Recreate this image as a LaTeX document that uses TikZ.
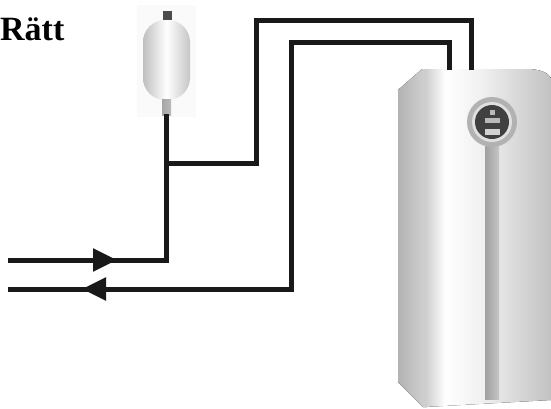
\documentclass[tikz,border=0pt]{standalone}
\usepackage{fontspec}
\setmainfont{Liberation Serif}
\usetikzlibrary{arrows.meta,positioning}

\pgfdeclarehorizontalshading{heaterfront}{100bp}{color(0bp)=(gray!40); color(25bp)=(gray!40);
  color(33bp)=(white); color(48bp)=(gray!12); color(75bp)=(gray!48); color(100bp)=(gray!48)}

\tikzset{
  pipe/.style={line width=5pt,draw=black!90},
  flow/.style={-{Triangle[length=24pt,width=22pt]}},
  vessel/.style={draw=none,minimum width=47pt,minimum height=80pt,rounded corners=22pt,
    left color=gray!50,right color=gray!45,middle color=white},
}

\begin{document}
\begin{tikzpicture}[x=1pt,y=-1pt]
  \useasboundingbox (0,0) rectangle (551,408);
  %\draw[very thin,lightgray] (0,0) grid[step=50] (551,408);
  \node[anchor=base west,inner sep=0pt,font=\fontsize{34}{36}\selectfont\bfseries] (title) at (0,40) {Rätt};

  % expansion vessel
  \fill[gray!4] (137,5) rectangle (196,117);
  \node[vessel] (vessel) at (166.5,60) {};
  \fill[black!70] (163,11) rectangle (172,20);
  \fill[left color=gray!70,right color=gray!55] (162,99) rectangle (171,115);
  \coordinate (neck) at (166.5,114);

  % heater
  \fill[left color=gray!60,right color=gray!35] (398,90) -- (422,69) -- (427,69) -- (427,407) -- (423,407) -- (398,382) -- cycle;
  \fill[shading=heaterfront] (425,69) -- (530,69) .. controls (542,70) and (548,73) .. (551,78) -- (551,400) -- (425,407) -- cycle;
  \fill[left color=gray!75,right color=gray!45] (485,140) rectangle (499,399);
  \fill[gray!60] (492,122) circle (25);
  \fill[gray!25] (492,122) circle (20);
  \fill[black!75] (492,122) circle (17);
  \fill[gray!55] (490,110) rectangle (495,115);
  \fill[gray!55] (485,118) rectangle (500,123);
  \fill[gray!35] (485,129) rectangle (500,135);
  \coordinate (heater in) at (471,70);
  \coordinate (heater out) at (449,70);

  % supply
  \coordinate (supply in) at (8,260);
  \coordinate (supply arrow) at (117,260);
  \coordinate (tee) at (166.5,163);
  \draw[pipe] (supply in) -| (neck);
  \draw[pipe,flow] (supply in) -- (supply arrow);
  \draw[pipe] (tee) -| (256,20) -| (heater in);

  % return
  \coordinate (return out) at (8,289);
  \coordinate (return arrow) at (82,289);
  \draw[pipe] (heater out) |- (291,42) |- (return out);
  \draw[pipe,flow] (291,289) -- (return arrow);
\end{tikzpicture}
\end{document}
